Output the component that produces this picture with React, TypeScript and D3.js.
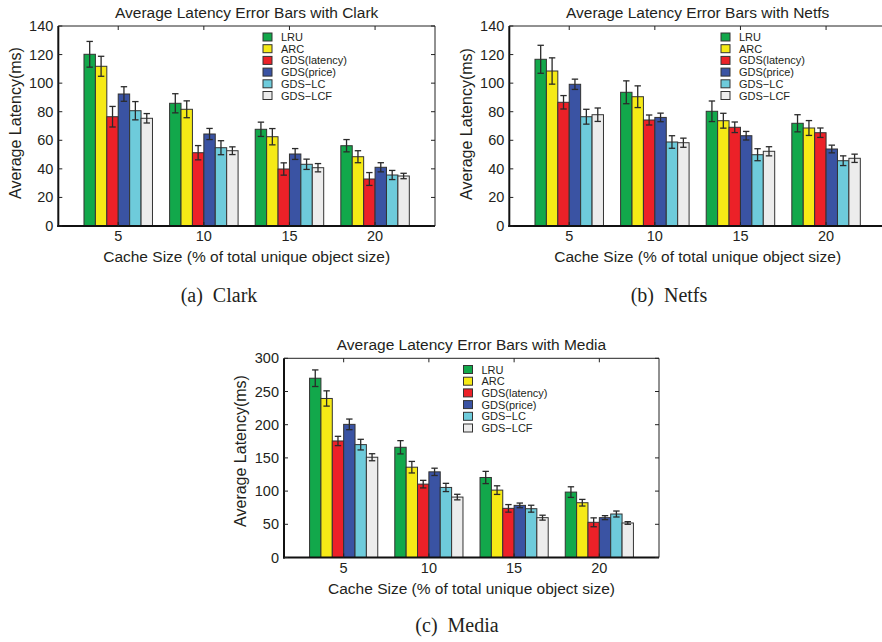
import React from "react";
import * as d3 from "d3";

const categories = ["5", "10", "15", "20"];
const seriesNames = ["LRU", "ARC", "GDS(latency)", "GDS(price)", "GDS\u2212LC", "GDS\u2212LCF"];
const seriesColors = ["#12a84b", "#f6ea16", "#ec2128", "#3a53a3", "#6ecbdb", "#ececec"];

const clarkMean = [
  [120.2, 85.9, 67.7, 56.2],
  [111.8, 81.7, 62.5, 48.5],
  [76.5, 51.3, 39.9, 32.9],
  [92.4, 64.4, 50.4, 41.1],
  [80.7, 54.8, 43.2, 35.7],
  [75.4, 52.7, 40.8, 35.0],
];
const clarkErr = [
  [9, 6.7, 5, 4.3],
  [7, 5.9, 5.7, 4.2],
  [7.2, 5, 4.3, 4.5],
  [5.1, 3.9, 3.8, 3.2],
  [6.4, 4.9, 3.6, 3.2],
  [3.3, 2.7, 2.9, 1.9],
];

const netfsMean = [
  [116.7, 93.6, 80.3, 71.9],
  [108.5, 90.5, 73.7, 68.6],
  [86.6, 74.2, 69.1, 65.3],
  [99.2, 76.0, 63.2, 53.9],
  [76.5, 58.8, 49.9, 45.7],
  [77.9, 58.3, 52.3, 47.4],
];
const netfsErr = [
  [9.8, 8, 7.2, 6],
  [9.2, 7.6, 5.2, 5.2],
  [4.7, 3.5, 3.7, 3.3],
  [3.6, 3, 3, 2.7],
  [5.2, 4.4, 4.2, 3.4],
  [4.7, 3.2, 3.2, 2.9],
];

const mediaMean = [
  [270, 166, 120.5, 98.5],
  [239.5, 136, 101.5, 82.5],
  [175.5, 110.5, 74, 53],
  [200.5, 129, 78.5, 60],
  [170, 105.5, 73.5, 65.5],
  [151, 91, 60, 52],
];
const mediaErr = [
  [12.5, 10, 9.2, 8],
  [11.5, 8.7, 6.5, 5],
  [7, 5.7, 5.7, 6.7],
  [8, 5.5, 3.5, 3],
  [8, 6.2, 5.2, 4.5],
  [5.3, 4.2, 3.7, 2],
];

const smallTicks = [0, 20, 40, 60, 80, 100, 120, 140];
const mediaTicks = [0, 50, 100, 150, 200, 250, 300];

const SANS = "'Liberation Sans', Arial, Helvetica, sans-serif";
const SERIF = "'Liberation Serif', 'Times New Roman', serif";
const TXT = "#231f20";

type PanelProps = {
  left: number; top: number; right: number; bottom: number;
  yMax: number; ticks: number[];
  mean: number[][]; err: number[][];
  title: string;
  legendX: number; legendY: number;
  yLabelX: number; yLabelY: number;
};

function Panel(p: PanelProps) {
  const x = d3.scaleLinear().domain([-0.7, 3.7]).range([p.left, p.right]);
  const y = d3.scaleLinear().domain([0, p.yMax]).range([p.bottom, p.top]);
  const nS = seriesNames.length;
  const groupW = 0.8;
  const bw = groupW / nS;
  const cx = (p.left + p.right) / 2;
  return (
    <g>
      <text x={cx} y={p.top - 8} textAnchor="middle" fontFamily={SANS} fontSize={15.5} fill={TXT}>{p.title}</text>
      {p.mean.map((row, s) =>
        row.map((v, g) => {
          const x0 = x(g - groupW / 2 + s * bw);
          const x1 = x(g - groupW / 2 + (s + 1) * bw);
          return (
            <rect key={`b${s}-${g}`} x={x0} y={y(v)} width={x1 - x0} height={y(0) - y(v)}
              fill={seriesColors[s]} stroke="#333" strokeWidth={1} />
          );
        })
      )}
      {p.mean.map((row, s) =>
        row.map((v, g) => {
          const xc = x(g - groupW / 2 + (s + 0.5) * bw);
          const e = p.err[s][g];
          const hi = y(v + e), lo = y(v - e);
          const cw = 3.2;
          return (
            <g key={`e${s}-${g}`} stroke="#2a2a2a" strokeWidth={1.3}>
              <line x1={xc} x2={xc} y1={hi} y2={lo} />
              <line x1={xc - cw} x2={xc + cw} y1={hi} y2={hi} />
              <line x1={xc - cw} x2={xc + cw} y1={lo} y2={lo} />
            </g>
          );
        })
      )}
      <line x1={p.left} x2={p.right} y1={p.top} y2={p.top} stroke="#222" strokeWidth={1} />
      <line x1={p.right} x2={p.right} y1={p.top} y2={p.bottom} stroke="#222" strokeWidth={1} />
      <line x1={p.left} x2={p.left} y1={p.top} y2={p.bottom + 1} stroke="#111" strokeWidth={2} />
      <line x1={p.left - 1} x2={p.right} y1={p.bottom} y2={p.bottom} stroke="#111" strokeWidth={2} />
      {p.ticks.map((t) => (
        <g key={`yt${t}`}>
          <line x1={p.left} x2={p.left + 4} y1={y(t)} y2={y(t)} stroke="#222" strokeWidth={1} />
          <line x1={p.right} x2={p.right - 4} y1={y(t)} y2={y(t)} stroke="#222" strokeWidth={1} />
          <text x={p.left - 5} y={y(t) + 5} textAnchor="end" fontFamily={SANS} fontSize={14.5} fill={TXT}>{t}</text>
        </g>
      ))}
      {categories.map((c, g) => (
        <g key={`xt${c}`}>
          <line x1={x(g)} x2={x(g)} y1={p.top} y2={p.top + 4} stroke="#222" strokeWidth={1} />
          <line x1={x(g)} x2={x(g)} y1={p.bottom} y2={p.bottom - 4} stroke="#222" strokeWidth={1} />
          <text x={x(g)} y={p.bottom + 15} textAnchor="middle" fontFamily={SANS} fontSize={14.5} fill={TXT}>{c}</text>
        </g>
      ))}
      <text x={cx} y={p.bottom + 36} textAnchor="middle" fontFamily={SANS} fontSize={15.5} fill={TXT}>
        Cache Size (% of total unique object size)
      </text>
      <text transform={`translate(${p.yLabelX},${p.yLabelY}) rotate(-90)`} textAnchor="middle"
        fontFamily={SANS} fontSize={16} fill={TXT} dy="0.35em">Average Latency(ms)</text>
      {seriesNames.map((n, s) => {
        const ry = p.legendY + s * 11.7;
        return (
          <g key={`lg${s}`}>
            <rect x={p.legendX} y={ry - 4} width={9} height={8} fill={seriesColors[s]} stroke="#333" strokeWidth={1} />
            <text x={p.legendX + 18} y={ry + 4} fontFamily={SANS} fontSize={11} fill={TXT}>{n}</text>
          </g>
        );
      })}
    </g>
  );
}

export default function App() {
  return (
    <div style={{ position: "absolute", left: 0, top: 0 }}>
      <svg width={882} height={642} viewBox="0 0 882 642" style={{ display: "block", background: "#fff" }}>
        <rect x={0} y={0} width={882} height={642} fill="#fff" />
        <Panel left={58.3} top={26} right={435} bottom={226} yMax={140} ticks={smallTicks}
          mean={clarkMean} err={clarkErr} title="Average Latency Error Bars with Clark"
          legendX={263} legendY={37} yLabelX={15} yLabelY={123} />
        <Panel left={509.3} top={26} right={886} bottom={226} yMax={140} ticks={smallTicks}
          mean={netfsMean} err={netfsErr} title="Average Latency Error Bars with Netfs"
          legendX={721} legendY={37} yLabelX={466} yLabelY={124} />
        <Panel left={284} top={358.3} right={659} bottom={557.5} yMax={300} ticks={mediaTicks}
          mean={mediaMean} err={mediaErr} title="Average Latency Error Bars with Media"
          legendX={463.5} legendY={369.5} yLabelX={240} yLabelY={451} />
        <text x={219} y={302} textAnchor="middle" fontFamily={SERIF} fontSize={20} fill={TXT} style={{ whiteSpace: "pre" }}>{"(a)  Clark"}</text>
        <text x={669} y={302} textAnchor="middle" fontFamily={SERIF} fontSize={20} fill={TXT} style={{ whiteSpace: "pre" }}>{"(b)  Netfs"}</text>
        <text x={457} y={632} textAnchor="middle" fontFamily={SERIF} fontSize={20} fill={TXT} style={{ whiteSpace: "pre" }}>{"(c)  Media"}</text>
      </svg>
    </div>
  );
}
